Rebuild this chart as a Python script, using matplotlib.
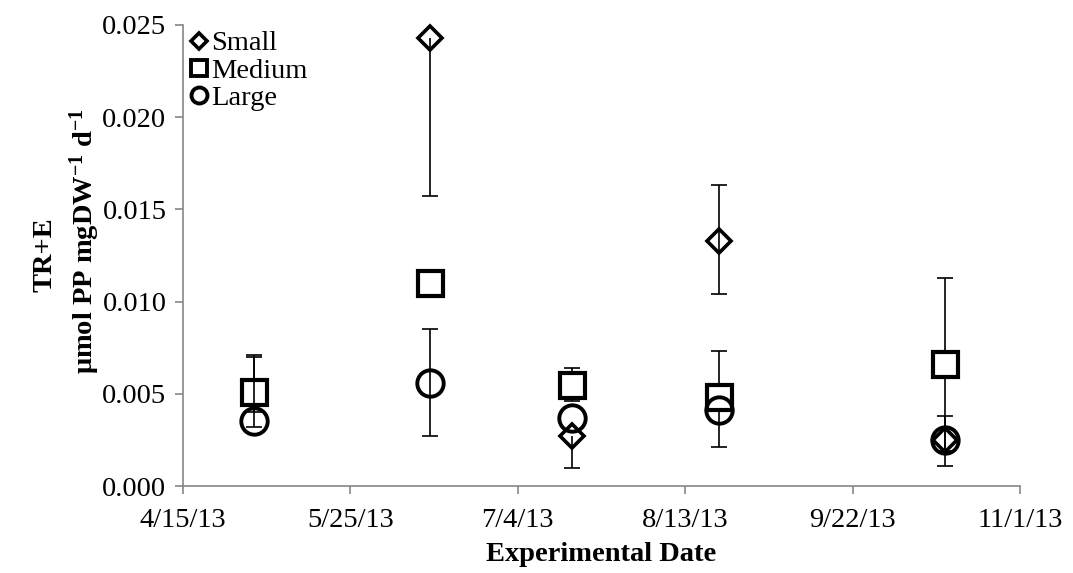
import numpy as np
import matplotlib
matplotlib.use('Agg')
import matplotlib.pyplot as plt
import matplotlib.dates as mdates
from matplotlib.lines import Line2D
from matplotlib.ticker import FuncFormatter

plt.rcParams['font.family'] = ['Liberation Serif', 'DejaVu Serif']
plt.rcParams['mathtext.fontset'] = 'custom'
plt.rcParams['mathtext.bf'] = 'Liberation Serif:bold'
plt.rcParams['mathtext.rm'] = 'Liberation Serif:bold'
plt.rcParams['mathtext.default'] = 'bf'

# sampling dates and mean rates per size class (nan = no bar on that side)
dates = ['2013-05-02', '2013-06-13', '2013-07-17', '2013-08-21', '2013-10-14']
small = [np.nan, 0.0243, 0.0027, 0.0133, 0.0025]
small_lo = [np.nan, 0.0086, 0.0017, 0.0029, 0.0014]
small_hi = [np.nan, np.nan, np.nan, 0.0030, 0.0013]
medium = [0.0051, 0.0110, 0.0055, 0.0048, 0.0066]
medium_lo = [0.0011, np.nan, 0.0009, np.nan, 0.0047]
medium_hi = [0.0020, np.nan, 0.0009, 0.0025, 0.0047]
large = [0.0035, 0.0056, 0.0037, 0.0041, 0.0025]
large_lo = [0.0003, 0.0029, np.nan, 0.0020, np.nan]
large_hi = [0.0035, 0.0029, np.nan, np.nan, np.nan]

tick_dates = ['2013-04-15', '2013-05-25', '2013-07-04', '2013-08-13', '2013-09-22', '2013-11-01']
tick_labels = ['4/15/13', '5/25/13', '7/4/13', '8/13/13', '9/22/13', '11/1/13']
y_ticks = [0.000, 0.005, 0.010, 0.015, 0.020, 0.025]

axis_gray = '#868686'
fs = 20.5

def draw_err(ax, x, y, lo, hi):
    y = np.asarray(y, float)
    for d in (-np.asarray(lo, float), np.asarray(hi, float)):
        ok = ~np.isnan(d) & ~np.isnan(y)
        ax.vlines(x[ok], y[ok], y[ok] + d[ok], color='black', lw=1.2)
        ax.plot(x[ok], y[ok] + d[ok], linestyle='none', marker='_', ms=11,
                mew=1.2, color='black')

def main():
    x = mdates.datestr2num(dates)
    fig = plt.figure(figsize=(10.73, 5.73), dpi=100)
    ax = fig.add_axes([0.1706, 0.1518, 0.78, 0.8046])

    draw_err(ax, x, small, small_lo, small_hi)
    ax.plot(x, small, linestyle='none', marker='D', ms=12.5, mew=2.6,
            mec='black', mfc='none', clip_on=False)
    draw_err(ax, x, medium, medium_lo, medium_hi)
    ax.plot(x, medium, linestyle='none', marker='s', ms=18, mew=3,
            mec='black', mfc='white', clip_on=False)
    draw_err(ax, x, large, large_lo, large_hi)
    ax.plot(x, large, linestyle='none', marker='o', ms=19, mew=2.8,
            mec='black', mfc='none', clip_on=False)

    ax.set_xlim(mdates.datestr2num(tick_dates[0]), mdates.datestr2num(tick_dates[-1]))
    ax.set_xticks(mdates.datestr2num(tick_dates))
    ax.set_xticklabels(tick_labels)
    ax.set_ylim(0, 0.025)
    ax.set_yticks(y_ticks)
    ax.yaxis.set_major_formatter(FuncFormatter(lambda v, p: '%.3f' % v))

    for s in ['top', 'right']:
        ax.spines[s].set_visible(False)
    for s in ['left', 'bottom']:
        ax.spines[s].set_color(axis_gray)
        ax.spines[s].set_linewidth(1.2)
    ax.tick_params(axis='both', direction='out', length=6, width=1.2,
                   color=axis_gray, labelsize=fs, labelcolor='black')
    ax.tick_params(axis='x', pad=10)
    ax.tick_params(axis='y', pad=6)

    ax.set_xlabel('Experimental Date', fontsize=fs, fontweight='bold', labelpad=6)
    fig.text(0.042, 0.555, 'TR+E', rotation=90, fontsize=fs, fontweight='bold',
             ha='center', va='center')
    fig.text(0.079, 0.58, '\u03bcmol PP mgDW$^{-1}$ d$^{-1}$', rotation=90,
             fontsize=fs, fontweight='bold', ha='center', va='center')

    handles = [
        Line2D([], [], linestyle='none', marker='D', ms=8, mew=2.6, mec='black', mfc='none'),
        Line2D([], [], linestyle='none', marker='s', ms=12, mew=2.8, mec='black', mfc='none'),
        Line2D([], [], linestyle='none', marker='o', ms=11.5, mew=2.8, mec='black', mfc='none'),
    ]
    ax.legend(handles, ['Small', 'Medium', 'Large'], loc='upper left',
              bbox_to_anchor=(-0.011, 1.025), frameon=False, fontsize=fs,
              handlelength=0.6, handletextpad=0.1, labelspacing=0.05,
              borderaxespad=0.2)

    fig.savefig('out.png', dpi=100)

if __name__ == '__main__':
    main()
